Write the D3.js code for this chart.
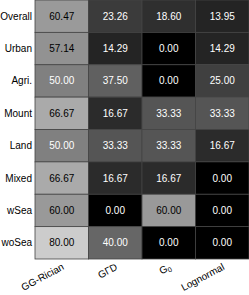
<!DOCTYPE html>
<html>
<head>
<meta charset="utf-8">
<script src="https://cdn.jsdelivr.net/npm/d3@7"></script>
<style>
  body { margin: 0; background: #fff; }
  svg { display: block; }
  text { font-family: "Liberation Sans", Arial, sans-serif; font-size: 10px; }
</style>
</head>
<body>
<div id="chart"></div>
<script>
// rows and columns of the table
var rows = ["Overall", "Urban", "Agri.", "Mount", "Land", "Mixed", "wSea", "woSea"];
var models = ["GG-Rician", "G\u0393D", "G0", "Lognormal"];

// percentages, one array per model (column)
var ggRician  = [60.47, 57.14, 50.00, 66.67, 50.00, 66.67, 60.00, 80.00];
var gGammaD   = [23.26, 14.29, 37.50, 16.67, 33.33, 16.67, 0.00, 40.00];
var gZero     = [18.60, 0.00, 0.00, 33.33, 33.33, 16.67, 60.00, 0.00];
var lognormal = [13.95, 14.29, 25.00, 33.33, 16.67, 0.00, 0.00, 0.00];

var columns = [ggRician, gGammaD, gZero, lognormal];

var width = 249, height = 295;
var margin = {top: 0, right: 0, bottom: 36, left: 35};

var svg = d3.select("#chart").append("svg")
  .attr("width", width)
  .attr("height", height);

var x = d3.scaleBand().domain(models).range([margin.left, width - margin.right]);
var y = d3.scaleBand().domain(rows).range([margin.top, height - margin.bottom]);
var gray = d3.scaleLinear().domain([0, 100]).range(["#000000", "#ffffff"]);

// flatten into cells for data binding
var cells = [];
columns.forEach(function(col, j) {
  col.forEach(function(v, i) {
    cells.push({row: rows[i], model: models[j], value: v});
  });
});

var cell = svg.append("g").selectAll("g").data(cells).enter().append("g");

cell.append("rect")
  .attr("x", function(d) { return x(d.model); })
  .attr("y", function(d) { return y(d.row); })
  .attr("width", x.bandwidth())
  .attr("height", y.bandwidth())
  .style("fill", function(d) { return gray(d.value); })
  .style("stroke", "#444")
  .style("stroke-width", 0.8);

cell.append("text")
  .attr("x", function(d) { return x(d.model) + x.bandwidth() / 2; })
  .attr("y", function(d) { return y(d.row) + y.bandwidth() / 2; })
  .attr("dy", "0.35em")
  .attr("text-anchor", "middle")
  .style("fill", function(d) { return d.value > 50 ? "#000" : "#fff"; })
  .text(function(d) { return d.value.toFixed(2); });

// row labels
svg.append("g").selectAll("text").data(rows).enter().append("text")
  .attr("x", margin.left - 3)
  .attr("y", function(d) { return y(d) + y.bandwidth() / 2; })
  .attr("dy", "0.35em")
  .attr("text-anchor", "end")
  .style("fill", "#000")
  .text(function(d) { return d; });

// column labels, rotated
var xl = svg.append("g").selectAll("text").data(models).enter().append("text")
  .attr("text-anchor", "end")
  .attr("transform", function(d) {
    return "translate(" + (x(d) + x.bandwidth() / 2 + 3) + "," + (height - margin.bottom + 10) + ") rotate(-28)";
  })
  .style("fill", "#000");

xl.each(function(d) {
  var t = d3.select(this);
  if (d == "G0") {
    t.append("tspan").text("G");
    t.append("tspan").attr("dy", "0.3em").style("font-size", "7px").text("0");
  } else {
    t.text(d);
  }
});
</script>
</body>
</html>
